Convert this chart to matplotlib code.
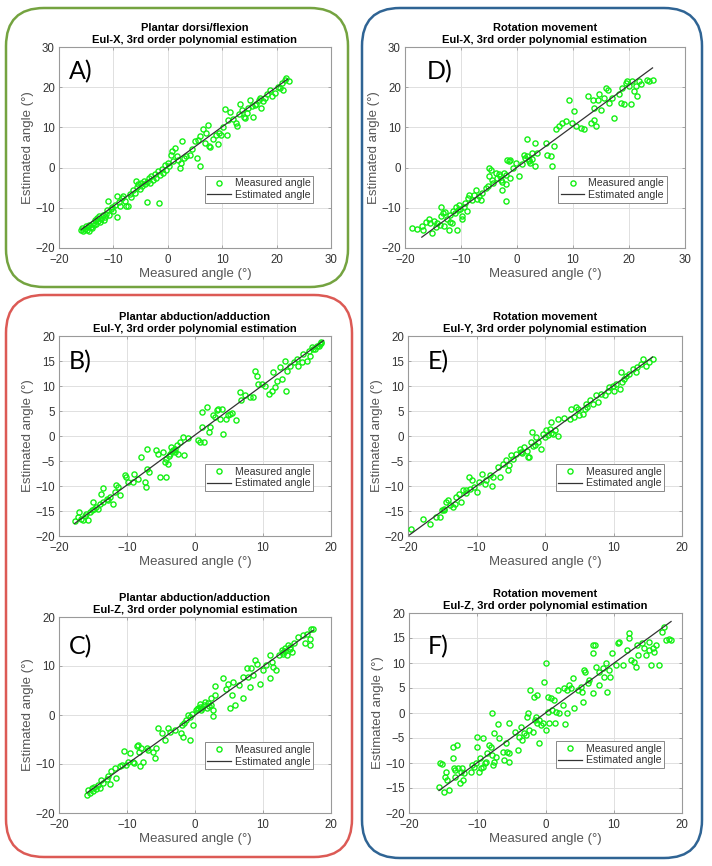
import matplotlib
matplotlib.use("Agg")
import matplotlib.pyplot as plt
from matplotlib.patches import FancyBboxPatch
from matplotlib.lines import Line2D

plt.rcParams['font.family'] = ['Liberation Sans', 'DejaVu Sans']

# ---------------- data ----------------
titles = [
    "Plantar dorsi/flexion\nEul-X, 3rd order polynomial estimation",
    "Plantar abduction/adduction\nEul-Y, 3rd order polynomial estimation",
    "Plantar abduction/adduction\nEul-Z, 3rd order polynomial estimation",
    "Rotation movement\nEul-X, 3rd order polynomial estimation",
    "Rotation movement\nEul-Y, 3rd order polynomial estimation",
    "Rotation movement\nEul-Z, 3rd order polynomial estimation",
]
panel_letters = ["A)", "B)", "C)", "D)", "E)", "F)"]
x_label = "Measured angle (°)"
y_label = "Estimated angle (°)"
legend_labels = ["Measured angle", "Estimated angle"]

ticks_A = [-20, -10, 0, 10, 20, 30]
ticks_B = [-20, -15, -10, -5, 0, 5, 10, 15, 20]
ticks_C = [-20, -10, 0, 10, 20]
ticks_E = [-20, -15, -10, -5, 0, 5, 10, 15, 20]

pts_A = [(-15.9,-15.4),(-15.7,-15.0),(-15.5,-15.8),(-15.3,-15.2),(-15.1,-14.6),(-14.9,-15.4),(-14.7,-14.9),(-14.5,-15.7),
(-14.4,-14.2),(-14.2,-14.8),(-14.0,-15.1),(-13.8,-13.7),(-13.6,-14.4),(-13.4,-13.1),(-13.2,-14.0),(-13.0,-12.6),(-12.8,-13.4),
(-12.6,-12.1),(-12.4,-13.6),(-12.2,-12.8),(-12.0,-11.7),(-11.8,-13.0),(-11.6,-12.2),(-11.3,-11.5),(-11.1,-10.6),(-11.0,-8.2),
(-10.8,-11.9),(-10.5,-10.3),(-10.2,-9.8),(-10.0,-10.9),(-9.7,-9.2),(-9.4,-12.2),(-9.3,-7.0),(-9.0,-8.5),(-8.7,-9.6),(-8.4,-7.6),
(-8.2,-7.1),(-7.9,-8.3),(-7.6,-9.6),(-7.3,-9.5),(-7.0,-6.5),(-6.7,-7.3),(-6.4,-5.6),(-6.1,-6.2),(-5.9,-3.4),(-5.7,-4.9),
(-5.5,-4.2),(-5.2,-5.3),(-5.0,-3.9),(-4.7,-4.6),(-4.4,-3.3),(-4.2,-4.0),(-3.9,-8.5),(-3.8,-3.5),(-3.5,-2.6),(-3.2,-3.9),
(-3.0,-2.2),(-2.7,-3.0),(-2.4,-1.7),(-2.1,-2.5),(-1.8,-0.9),(-1.6,-8.7),(-1.4,-1.9),(-1.1,-0.4),(-0.8,-1.4),(-0.5,0.6),
(-0.3,-0.6),(0.0,1.2),(0.3,0.3),(0.5,3.2),(0.7,4.1),(1.0,1.6),(1.3,4.8),(1.6,2.8),(1.9,1.9),(2.2,-0.1),(2.5,1.2),(2.6,6.5),
(2.9,2.4),(3.4,2.8),(4.0,3.2),(4.5,4.6),(5.0,6.5),(5.3,2.4),(5.6,6.9),(5.9,0.3),(6.0,7.8),(6.5,9.5),(6.8,6.2),(7.1,8.5),
(7.4,10.7),(7.5,5.3),(7.8,5.1),(8.3,7.0),(8.8,8.1),(9.3,5.9),(9.5,8.6),(9.7,8.2),(10.2,10.0),(10.5,14.6),(10.8,8.2),
(11.0,11.9),(11.4,13.9),(12.0,12.0),(12.6,11.2),(12.7,10.3),(13.0,13.3),(13.3,15.7),(13.7,14.3),(14.0,12.5),(14.2,12.3),
(14.5,13.7),(14.8,14.9),(15.1,16.9),(15.4,15.4),(15.7,12.5),(16.0,15.6),(16.3,15.8),(16.7,16.9),(16.9,17.3),(17.2,14.8),
(17.5,16.6),(17.8,17.4),(18.2,18.3),(18.8,19.4),(19.1,17.7),(19.7,18.6),(20.2,20.1),(20.6,19.8),(21.0,21.0),(21.2,19.4),
(21.5,21.9),(21.8,22.3),(22.3,21.6)]

pts_D = [(-18.7,-15.0),(-17.8,-15.3),(-16.9,-14.6),(-16.3,-13.6),(-15.7,-12.9),(-15.1,-16.3),(-14.8,-13.3),(-14.2,-13.8),
(-13.6,-12.1),(-13.5,-9.8),(-13.2,-11.3),(-13.1,-14.6),(-12.5,-12.9),(-12.2,-15.4),(-11.9,-11.7),(-11.6,-13.8),(-11.0,-11.3),
(-10.7,-15.6),(-10.4,-9.2),(-10.1,-10.4),(-9.8,-12.9),(-9.2,-8.8),(-8.9,-10.9),(-8.6,-6.7),(-8.0,-8.0),(-7.4,-5.5),(-6.8,-7.1),
(-6.5,-8.0),(-5.6,-5.1),(-5.0,-0.1),(-4.7,-0.5),(-5.0,-2.2),(-4.4,-3.0),(-3.8,-1.3),(-3.2,-1.7),(-2.9,-3.0),(-2.6,-5.5),
(-2.3,-1.3),(-2.0,-8.4),(-1.7,2.0),(-1.4,1.6),(-1.3,-2.6),(-0.8,-0.1),(-0.2,1.2),(0.4,-2.2),(1.3,3.2),(1.5,2.4),(1.8,7.0),
(2.1,2.0),(2.4,1.2),(2.7,3.6),(3.3,6.1),(3.3,0.3),(3.6,3.6),(5.1,6.1),(5.4,3.2),(6.0,2.8),(6.2,0.5),(6.6,5.3),(6.9,9.5),
(7.5,10.3),(8.1,11.1),(8.7,11.5),(9.3,16.9),(9.9,11.1),(10.2,14.0),(10.5,10.3),(11.4,9.9),(12.0,9.5),(12.6,17.7),(13.2,11.1),
(13.5,16.9),(13.8,14.8),(13.8,11.9),(14.1,10.3),(14.4,16.9),(14.7,18.2),(15.0,14.4),(15.6,17.3),(15.9,19.8),(16.2,19.4),
(16.5,16.1),(17.0,17.3),(17.4,12.4),(18.2,18.2),(18.5,16.1),(18.8,19.8),(19.1,15.7),(19.4,21.1),(19.7,21.5),(20.0,20.2),
(20.3,15.7),(20.6,21.5),(20.9,19.0),(21.2,20.2),(21.5,17.7),(21.8,21.5),(22.1,20.7),(23.3,21.9),(23.6,21.5),(24.2,21.9),
(-12.8,-11.0),(-11.4,-10.8),(-10.9,-9.9),(-10.5,-10.6),(-9.5,-9.8),(-8.7,-7.5),(-7.6,-6.8),(-7.2,-7.9),(-6.2,-6.2),
(-5.2,-4.6),(-4.2,-3.8),(-3.5,-2.5),(-3.0,-2.2),(-2.6,-3.5),(-2.0,-1.8),(-1.9,-4.2),(-1.2,1.8),(0.9,1.0),(1.8,2.8),
(2.2,1.6),(2.6,2.2),(-14.5,-14.7),(-15.5,-13.8),(-16.8,-15.6),(-13.8,-14.2),(-12.0,-13.5),(-9.9,-12.0)]

pts_B = [(-17.7,-16.9),(-17.2,-16.1),(-17.0,-15.1),(-16.5,-16.8),(-16.0,-15.5),(-15.7,-16.8),(-15.2,-14.8),(-15.0,-13.1),
(-14.5,-14.1),(-14.0,-13.5),(-13.8,-11.5),(-13.5,-10.3),(-13.0,-12.5),(-12.5,-12.1),(-12.0,-13.5),(-11.8,-11.1),(-11.6,-9.8),
(-11.3,-10.1),(-11.1,-11.8),(-10.3,-7.8),(-10.1,-8.1),(-9.8,-9.1),(-9.1,-9.1),(-8.9,-7.5),(-8.4,-8.5),(-7.9,-4.2),(-7.4,-9.1),
(-7.2,-10.1),(-7.1,-2.5),(-7.1,-6.5),(-6.7,-7.2),(-5.7,-2.8),(-5.4,-3.5),(-5.2,-8.1),(-4.7,-3.2),(-4.4,-5.2),(-4.2,-8.1),
(-4.0,-5.5),(-3.7,-3.5),(-3.5,-2.2),(-3.2,-2.8),(-3.0,-3.2),(-2.7,-1.8),(-2.5,-3.5),(-2.2,-1.2),(-1.7,-0.2),(-1.6,-3.8),
(-1.0,-0.3),(0.5,-0.8),(0.7,-1.2),(1.0,4.8),(1.1,1.8),(1.3,-1.2),(1.7,5.8),(2.1,0.8),(2.2,1.8),(2.7,4.2),(2.9,3.8),(3.2,5.2),
(3.4,5.5),(3.7,3.5),(3.9,5.5),(4.1,0.5),(4.5,3.5),(4.9,4.2),(5.1,4.5),(5.4,4.6),(6.1,3.2),(6.6,8.8),(6.8,7.2),(7.3,8.2),
(8.1,7.8),(8.6,7.8),(8.8,13.1),(9.1,12.1),(9.3,10.5),(9.8,10.5),(10.3,10.1),(10.9,8.5),(11.3,9.1),(11.5,12.8),(11.8,9.8),
(12.0,11.1),(12.5,13.8),(12.8,11.5),(13.2,15.1),(13.4,9.1),(13.5,13.1),(14.0,14.1),(14.5,14.8),(15.0,15.5),(15.2,14.1),
(15.7,14.8),(15.9,16.5),(16.4,15.1),(16.7,17.1),(16.9,16.1),(17.2,17.8),(17.4,17.5),(17.9,18.1),(18.4,18.5),(18.6,18.8),
(18.2,18.0),(18.5,18.6),(17.7,17.4),(-16.8,-16.5),(-16.2,-16.0),(-15.4,-15.2),(-14.8,-14.6),(-14.2,-14.6),(-13.6,-13.2),
(-12.8,-12.8),(-3.8,-3.9),(-3.4,-3.0),(-2.9,-2.6),(-4.2,-4.6)]

pts_C = [(-15.9,-16.3),(-15.7,-15.3),(-15.5,-15.9),(-15.2,-14.9),(-15.0,-15.6),(-14.8,-14.6),(-14.5,-15.1),(-14.3,-14.2),
(-14.0,-14.9),(-13.8,-13.2),(-13.5,-13.9),(-13.0,-13.1),(-12.8,-12.5),(-12.5,-14.0),(-12.3,-11.5),(-11.8,-10.8),(-11.6,-12.9),
(-11.1,-10.5),(-10.8,-10.2),(-10.5,-7.3),(-10.1,-10.2),(-9.8,-9.5),(-9.5,-7.8),(-9.1,-9.5),(-8.9,-9.8),(-8.6,-6.4),(-8.4,-6.1),
(-8.2,-7.5),(-8.1,-10.5),(-7.9,-6.8),(-7.6,-9.5),(-7.1,-6.8),(-6.9,-7.1),(-6.2,-7.5),(-5.9,-8.8),(-5.7,-6.8),(-5.4,-2.7),
(-4.9,-3.7),(-4.4,-5.1),(-4.0,-2.7),(-3.7,-3.4),(-3.0,-3.1),(-2.0,-3.7),(-1.8,-4.4),(-1.6,-1.7),(-1.3,-1.0),(-1.0,0.0),
(-0.8,-5.1),(-0.5,0.3),(-0.3,-2.0),(0.2,1.0),(0.5,1.4),(0.7,1.7),(0.9,1.0),(1.3,2.0),(1.7,1.4),(1.9,2.4),(2.3,3.4),(2.6,1.0),
(2.7,-0.3),(2.9,4.1),(2.9,5.9),(4.1,7.5),(4.6,5.4),(4.9,6.4),(5.1,1.4),(5.4,4.1),(5.6,6.8),(5.9,2.0),(6.4,6.1),(7.0,3.4),
(7.1,7.8),(7.6,9.5),(7.8,7.8),(8.1,5.8),(8.2,9.5),(8.6,8.1),(8.8,11.2),(9.1,10.5),(9.6,6.4),(10.0,9.2),(10.5,10.2),(11.0,12.2),
(11.1,7.5),(11.3,10.8),(11.5,9.8),(11.9,9.2),(12.3,12.2),(12.8,13.2),(13.0,12.9),(13.2,13.6),(13.5,12.2),(13.7,14.2),
(14.0,13.9),(14.2,12.9),(14.5,14.6),(15.2,15.9),(15.9,16.3),(16.2,14.6),(16.4,16.6),(16.9,15.6),(16.9,14.2),(17.1,17.6),
(17.4,17.6),(0.3,1.3),(1.0,1.5),(1.5,2.6),(2.0,1.8),(2.4,2.0),(0.8,2.2),(-0.7,-0.4),(-1.9,-2.0),(13.3,13.0),(13.9,13.4),
(12.9,12.5)]

pts_E = [(-19.5,-18.5),(-17.8,-16.5),(-16.8,-17.5),(-15.9,-16.1),(-15.4,-16.1),(-15.1,-14.8),(-14.7,-14.5),(-14.4,-13.1),
(-14.2,-12.8),(-13.9,-13.8),(-13.4,-14.1),(-13.2,-13.5),(-13.0,-12.1),(-12.5,-11.6),(-12.3,-13.1),(-12.0,-10.8),(-11.5,-10.8),
(-11.1,-8.2),(-11.0,-10.5),(-10.6,-8.8),(-10.3,-10.1),(-10.0,-11.1),(-9.6,-9.1),(-9.2,-7.6),(-8.8,-9.5),(-8.6,-8.8),
(-8.1,-7.8),(-7.8,-10.0),(-7.6,-8.2),(-6.9,-6.1),(-6.6,-8.2),(-6.1,-5.5),(-5.7,-4.8),(-5.4,-6.8),(-5.2,-5.8),(-4.9,-3.8),
(-4.7,-4.5),(-4.2,-3.5),(-3.7,-2.5),(-3.5,-3.2),(-3.0,-2.2),(-2.5,-4.2),(-2.3,-4.2),(-2.0,-1.2),(-1.9,0.8),(-1.5,-1.8),
(-1.3,-0.2),(-1.0,-1.2),(-0.6,-2.5),(-0.3,0.5),(0.2,1.2),(0.4,0.2),(0.7,1.5),(0.9,2.8),(1.1,0.5),(1.4,1.2),(1.9,0.0),
(1.9,3.5),(2.8,3.6),(3.6,3.5),(3.8,5.5),(4.3,3.8),(4.5,5.8),(4.8,5.5),(5.0,4.2),(5.5,4.5),(5.8,5.5),(6.0,6.5),(6.2,5.8),
(6.5,7.2),(7.0,6.5),(7.5,8.2),(7.7,6.8),(8.2,8.5),(8.7,8.2),(9.2,9.1),(9.4,9.8),(9.9,10.1),(10.1,9.1),(10.4,10.5),(10.9,9.5),
(11.1,12.8),(11.3,10.8),(11.6,11.5),(11.8,12.1),(12.3,12.5),(12.8,13.5),(13.3,12.8),(13.5,13.8),(14.0,14.5),(14.3,15.5),
(14.7,14.1),(15.2,14.8),(15.7,15.5),(-2.7,-2.9),(-1.8,-2.0),(0.0,-0.2),(0.9,0.6),(-3.3,-3.4),(-11.6,-11.4),(-14.8,-14.8)]

pts_F = [(-15.6,-14.8),(-15.4,-10.0),(-15.2,-10.2),(-14.9,-15.7),(-14.7,-12.7),(-14.6,-11.7),(-14.4,-13.3),(-14.1,-15.3),
(-13.6,-9.0),(-13.5,-6.7),(-13.4,-11.0),(-13.2,-11.3),(-13.2,-12.7),(-12.9,-6.3),(-12.8,-11.0),(-12.6,-14.0),(-12.4,-11.7),
(-12.2,-11.0),(-12.1,-13.3),(-11.9,-12.0),(-10.9,-11.7),(-10.7,-10.3),(-10.5,-10.7),(-10.2,-10.0),(-10.1,-6.7),(-10.0,-4.7),
(-9.8,-11.7),(-9.6,-9.0),(-9.5,-11.0),(-9.2,-5.0),(-9.1,-10.7),(-8.9,-10.0),(-8.7,-9.7),(-8.5,-8.0),(-8.3,-6.3),(-8.0,-6.7),
(-7.9,-8.3),(-7.7,-10.3),(-7.5,-9.7),(-7.8,0.1),(-7.5,-4.0),(-7.3,-8.7),(-6.9,-2.1),(-6.8,-5.0),(-6.3,-7.7),(-6.1,-9.3),
(-5.8,-6.0),(-5.6,-7.7),(-5.4,-8.0),(-5.3,-9.7),(-5.3,-1.9),(-4.5,-3.7),(-4.1,-7.3),(-3.9,-4.7),(-3.6,-2.7),(-3.4,-5.3),
(-3.1,-4.0),(-2.9,-4.3),(-2.7,-0.7),(-2.5,0.0),(-2.4,-3.3),(-2.2,4.7),(-1.9,-3.7),(-1.7,3.3),(-1.5,-1.3),(-1.4,-0.7),
(-1.3,-2.0),(-1.2,3.7),(-1.0,-6.0),(-0.9,-1.3),(-0.7,-2.3),(-0.4,-2.0),(-0.2,6.3),(0.0,-3.3),(0.1,10.0),(0.3,3.3),(0.4,0.3),
(0.5,-2.0),(0.8,3.0),(1.0,0.7),(1.3,2.7),(1.4,-2.0),(1.5,0.3),(1.8,4.7),(2.0,0.0),(2.5,1.7),(2.7,5.0),(2.9,-2.1),(3.1,4.7),
(3.2,0.0),(3.5,5.7),(3.7,5.0),(4.0,7.0),(4.2,1.0),(4.7,4.7),(5.2,5.3),(5.4,4.3),(5.5,2.3),(5.7,8.7),(5.8,8.3),(6.2,6.0),
(6.4,6.7),(6.9,4.0),(6.9,12.0),(7.0,13.7),(7.3,13.7),(7.4,9.3),(7.8,8.3),(7.9,5.7),(8.4,9.0),(8.6,7.3),(8.9,10.0),(9.0,4.3),
(9.3,8.7),(9.4,7.3),(9.7,12.0),(10.3,9.7),(10.6,14.0),(10.8,14.3),(11.3,9.7),(11.9,12.7),(12.2,16.0),(12.3,15.0),(12.5,10.7),
(13.0,10.3),(13.3,9.3),(13.4,13.7),(13.6,11.7),(14.1,14.0),(14.5,13.0),(14.7,11.7),(15.1,12.7),(15.2,14.3),(15.5,9.7),
(15.7,13.0),(15.9,12.3),(16.2,13.7),(16.7,9.7),(17.1,16.3),(17.4,17.3),(17.7,14.7),(18.1,14.8),(18.4,14.7)]

line_A = ([-15.9, 22.0], [-15.4, 22.0])
line_B = ([-17.7, 18.9], [-17.5, 19.1])
line_C = ([-15.9, 17.4], [-15.9, 17.3])
line_D = ([-17.0, 24.2], [-17.3, 24.8])
line_E = ([-19.8, 15.7], [-19.8, 15.8])
line_F = ([-15.6, 18.4], [-15.5, 18.3])

# ---------------- layout ----------------
W, H = 712, 866
fig = plt.figure(figsize=(W / 100, H / 100), dpi=100)

bg = fig.add_axes([0, 0, 1, 1], zorder=-10)
bg.set_xlim(0, W)
bg.set_ylim(H, 0)
bg.axis('off')
frames = [
    (6, 8, 342, 279, '#74a340'),
    (6, 295, 346, 562, '#dc5a55'),
    (362, 8, 340, 850, '#2f6494'),
]
for x0, y0, w, h, col in frames:
    bg.add_patch(FancyBboxPatch((x0, y0), w, h, boxstyle="round,pad=0,rounding_size=38",
                                fill=False, edgecolor=col, linewidth=1.8))

# pixel boxes (left, top, right, bottom)
panels = [
    dict(pts=pts_A, line=line_A, box=(59, 47, 331, 248), lim=(-20, 30), ticks=ticks_A, letter_xy=(69, 72)),
    dict(pts=pts_B, line=line_B, box=(59, 336, 331, 536), lim=(-20, 20), ticks=ticks_B, letter_xy=(69, 362), xt=ticks_C),
    dict(pts=pts_C, line=line_C, box=(59, 617, 331, 813), lim=(-20, 20), ticks=ticks_C, letter_xy=(69, 647)),
    dict(pts=pts_D, line=line_D, box=(405, 47, 685, 248), lim=(-20, 30), ticks=ticks_A, letter_xy=(427, 72)),
    dict(pts=pts_E, line=line_E, box=(408, 336, 682, 536), lim=(-20, 20), ticks=ticks_E, letter_xy=(428, 362), xt=ticks_C),
    dict(pts=pts_F, line=line_F, box=(409, 613, 682, 813), lim=(-20, 20), ticks=ticks_E, letter_xy=(428, 647), xt=ticks_C),
]

green = '#14f014'
for i, p in enumerate(panels):
    l, t, r, b = p['box']
    ax = fig.add_axes([l / W, 1 - b / H, (r - l) / W, (b - t) / H])
    xs = [q[0] for q in p['pts']]
    ys = [q[1] for q in p['pts']]
    ax.plot(xs, ys, 'o', mfc='none', mec=green, ms=3.7, mew=1.0, zorder=3)
    ax.plot(p['line'][0], p['line'][1], '-', color='#333333', lw=0.9, zorder=4)
    ax.set_xlim(*p['lim'])
    ax.set_ylim(*p['lim'])
    ax.set_xticks(p.get('xt', p['ticks']))
    ax.set_yticks(p['ticks'])
    ax.grid(True, color='#e0e0e0', lw=0.7, zorder=0)
    ax.set_axisbelow(True)
    for s in ax.spines.values():
        s.set_color('#9a9a9a')
        s.set_linewidth(0.8)
    ax.tick_params(direction='in', length=2.5, width=0.6, color='#9a9a9a',
                   labelsize=8.3, labelcolor='#333333', top=True, right=True)
    ax.tick_params(axis='x', pad=4.5)
    ax.tick_params(axis='y', pad=3)
    ax.set_xlabel(x_label, fontsize=9.5, color='#555555', labelpad=1)
    ax.set_ylabel(y_label, fontsize=9.5, color='#555555', labelpad=1)
    ax.set_title(titles[i], fontsize=8.0, fontweight='bold', pad=3, linespacing=1.2)
    handles = [Line2D([], [], ls='none', marker='o', mfc='none', mec=green, ms=3.7, mew=1.0),
               Line2D([], [], color='#333333', lw=0.9)]
    leg = ax.legend(handles, legend_labels, loc='upper right', bbox_to_anchor=(0.935, 0.36),
                    fontsize=7.6, numpoints=1, handlelength=2.2, handletextpad=0.4,
                    borderpad=0.25, labelspacing=0.15, fancybox=False, framealpha=1,
                    edgecolor='#888888', borderaxespad=0)
    for txt in leg.get_texts():
        txt.set_color('#333333')
    leg.get_frame().set_linewidth(0.7)
    lx, ly = p['letter_xy']
    fig.text(lx / W, 1 - ly / H, panel_letters[i], fontsize=18, family=['Lato', 'DejaVu Sans'],
             ha='left', va='center', color='black')

fig.savefig('out.png', dpi=100)
